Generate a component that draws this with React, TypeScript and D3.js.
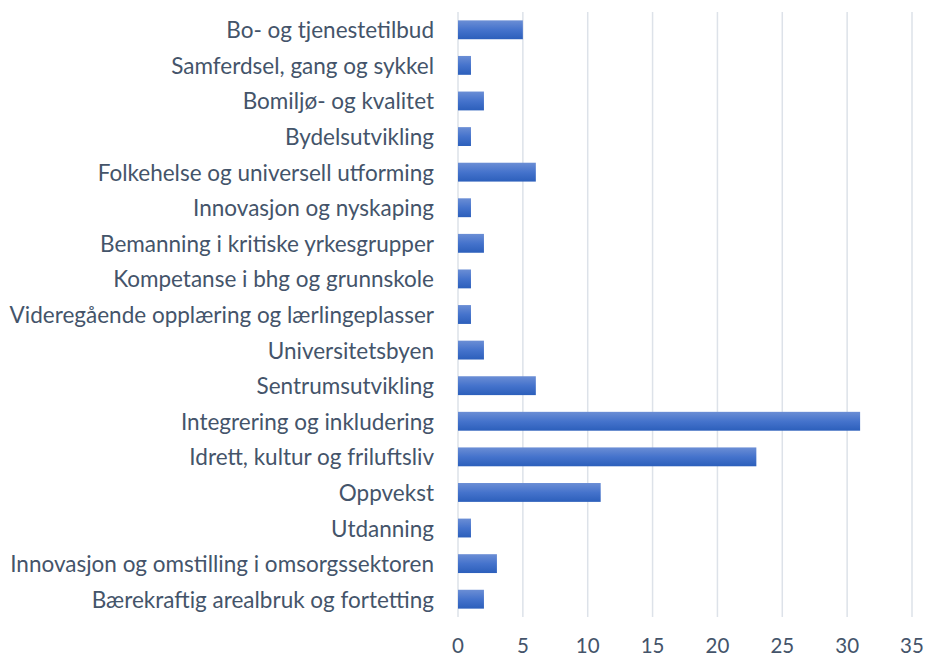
import { useEffect, useRef } from "react";
import * as d3 from "d3";

const categories = [
  "Bo- og tjenestetilbud",
  "Samferdsel, gang og sykkel",
  "Bomiljø- og kvalitet",
  "Bydelsutvikling",
  "Folkehelse og universell utforming",
  "Innovasjon og nyskaping",
  "Bemanning i kritiske yrkesgrupper",
  "Kompetanse i bhg og grunnskole",
  "Videregående opplæring og lærlingeplasser",
  "Universitetsbyen",
  "Sentrumsutvikling",
  "Integrering og inkludering",
  "Idrett, kultur og friluftsliv",
  "Oppvekst",
  "Utdanning",
  "Innovasjon og omstilling i omsorgssektoren",
  "Bærekraftig arealbruk og fortetting",
];

const values = [5, 1, 2, 1, 6, 1, 2, 1, 1, 2, 6, 31, 23, 11, 1, 3, 2];

const xTicks = [0, 5, 10, 15, 20, 25, 30, 35];

const width = 926;
const height = 659;

export default function App() {
  const svgRef = useRef<SVGSVGElement>(null);

  useEffect(() => {
    if (!svgRef.current) return;
    const svg = d3.select(svgRef.current);
    svg.selectAll("*").remove();

    const margin = { top: 12, right: 14, bottom: 42, left: 458 };
    const innerWidth = width - margin.left - margin.right;
    const innerHeight = height - margin.top - margin.bottom;

    const x = d3.scaleLinear().domain([0, 35]).range([0, innerWidth]);
    const y = d3
      .scaleBand<string>()
      .domain(categories)
      .range([0, innerHeight])
      .paddingInner(0.47)
      .paddingOuter(0.235);

    const defs = svg.append("defs");
    const grad = defs
      .append("linearGradient")
      .attr("id", "barGrad")
      .attr("x1", 0)
      .attr("y1", 0)
      .attr("x2", 0)
      .attr("y2", 1);
    grad.append("stop").attr("offset", "0%").attr("stop-color", "#6B8ED5");
    grad.append("stop").attr("offset", "50%").attr("stop-color", "#4573CC");
    grad.append("stop").attr("offset", "100%").attr("stop-color", "#2C5FBB");

    const g = svg
      .append("g")
      .attr("transform", `translate(${margin.left},${margin.top})`);

    // gridlines
    g.selectAll("line.grid")
      .data(xTicks)
      .join("line")
      .attr("class", "grid")
      .attr("x1", (d) => x(d))
      .attr("x2", (d) => x(d))
      .attr("y1", 0)
      .attr("y2", innerHeight)
      .attr("stroke", "#DDE2E9")
      .attr("stroke-width", 1.5);

    // bars
    g.selectAll("rect.bar")
      .data(values)
      .join("rect")
      .attr("class", "bar")
      .attr("x", x(0))
      .attr("y", (_, i) => y(categories[i]) || 0)
      .attr("width", (d) => x(d) - x(0))
      .attr("height", y.bandwidth())
      .attr("fill", "url(#barGrad)");

    // category labels
    g.selectAll("text.cat")
      .data(categories)
      .join("text")
      .attr("class", "cat")
      .attr("x", -24)
      .attr("y", (d) => (y(d) || 0) + y.bandwidth() / 2)
      .attr("text-anchor", "end")
      .attr("dominant-baseline", "central")
      .style("font-family", "Lato, 'Open Sans', sans-serif")
      .style("font-size", "22.5px")
      .style("fill", "#44546A")
      .text((d) => d);

    // x tick labels
    g.selectAll("text.tick")
      .data(xTicks)
      .join("text")
      .attr("class", "tick")
      .attr("x", (d) => x(d))
      .attr("y", innerHeight + 36)
      .attr("text-anchor", "middle")
      .style("font-family", "Lato, 'Open Sans', sans-serif")
      .style("font-size", "20.5px")
      .style("fill", "#44546A")
      .text((d) => d);
  }, []);

  return (
    <svg
      ref={svgRef}
      width={width}
      height={height}
      style={{ position: "absolute", left: 0, top: 0, background: "#fff" }}
    />
  );
}
